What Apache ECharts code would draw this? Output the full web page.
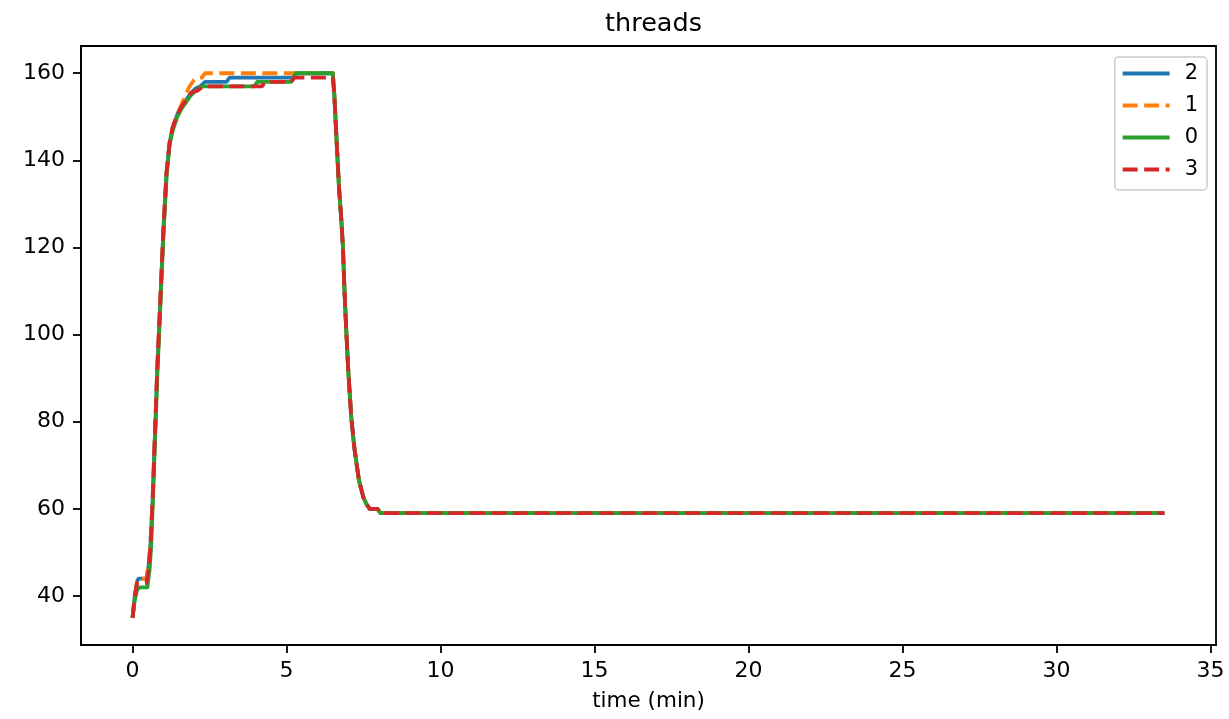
<!DOCTYPE html>
<html>
<head>
<meta charset="utf-8">
<script src="https://cdn.jsdelivr.net/npm/echarts@6/dist/echarts.min.js"></script>
<style>html,body{margin:0;padding:0;background:#fff}#c{width:1229px;height:719px}</style>
</head>
<body>
<div id="c"></div>
<script>
const titleText = 'threads';
const xName = 'time (min)';
const xTicks = [0, 5, 10, 15, 20, 25, 30, 35];
const yTicks = [40, 60, 80, 100, 120, 140, 160];
const seriesNames = ['2', '1', '0', '3'];

// shared drop phase and tail (all series identical there)
const dropTail = [[6.55,155],[6.62,145],[6.7,134],[6.78,126],[6.83,120],[6.88,110],[6.93,102],[7.0,92],[7.1,81],[7.2,74],[7.35,66.5],[7.5,62.5],[7.6,61],[7.7,60],[7.95,60],[8.05,59],[33.5,59]];

const s2 = [[0,35],[0.07,40],[0.15,43.5],[0.2,44],[0.45,44],[0.52,47],[0.58,52],[0.65,62],[0.7,72],[0.75,82],[0.8,92],[0.87,103],[0.95,116],[1.0,124],[1.1,137],[1.2,144],[1.3,147.5],[1.45,150.5],[1.6,152.5],[1.75,154],[1.9,155.5],[2.05,156.5],[2.2,157],[2.35,158],[3.05,158],[3.15,159],[5.2,159],[5.3,160],[6.5,160]];
const s1 = [[0,35],[0.07,40],[0.15,43.5],[0.2,44],[0.45,44],[0.52,47],[0.58,52],[0.65,62],[0.7,72],[0.75,82],[0.8,92],[0.87,103],[0.95,116],[1.0,124],[1.1,137],[1.2,144],[1.3,147.5],[1.45,150.5],[1.6,153],[1.75,155.5],[1.85,157],[2.0,158.5],[2.1,159],[2.25,159],[2.35,160],[6.5,160]];
const s0 = [[0,35],[0.07,39],[0.15,41.5],[0.25,42],[0.48,42],[0.55,46],[0.6,51],[0.66,62],[0.71,72],[0.76,82],[0.81,92],[0.88,103],[0.96,116],[1.01,124],[1.11,137],[1.21,144],[1.31,147],[1.45,150],[1.6,152],[1.75,153.5],[1.9,155],[2.05,156],[2.25,157],[3.95,157],[4.05,158],[5.15,158],[5.3,160],[6.5,160]];
const s3 = [[0,35],[0.07,40],[0.15,43],[0.45,43],[0.52,46],[0.58,51],[0.65,62],[0.7,72],[0.75,82],[0.8,92],[0.87,103],[0.95,116],[1.0,124],[1.1,137],[1.2,144],[1.3,147.5],[1.45,150.5],[1.6,152.5],[1.75,154],[1.9,155.5],[2.1,156],[2.3,157],[4.2,157],[4.3,158],[5.15,158],[5.25,159],[6.5,159]];

const colors = ['#1f77b4', '#ff7f0e', '#2ca02c', '#d62728'];
const styles = ['solid', 'dashed', 'solid', 'dashed'];
const dataSets = [s2, s1, s0, s3].map(d => d.concat(dropTail));

const chart = echarts.init(document.getElementById('c'), null, {renderer: 'canvas'});
const font = 'DejaVu Sans';
chart.setOption({
  animation: false,
  backgroundColor: '#fff',
  title: {
    text: titleText, left: 648.5, top: 6, textAlign: 'center',
    textStyle: {fontFamily: font, fontSize: 25.5, fontWeight: 'normal', color: '#000'}
  },
  grid: {left: 81, right: 13, top: 46, bottom: 74, show: true, borderColor: '#000', borderWidth: 1.8, containLabel: false},
  legend: {
    orient: 'vertical', right: 22, top: 57,
    itemWidth: 47, itemHeight: 20, itemGap: 11,
    padding: [6, 9, 10, 6],
    borderColor: '#cccccc', borderWidth: 1.5, borderRadius: 4,
    backgroundColor: 'rgba(255,255,255,0.8)',
    itemStyle: {color: 'rgba(0,0,0,0)', borderColor: 'rgba(0,0,0,0)', borderWidth: 0, opacity: 0},
    lineStyle: {width: 3.8},
    textStyle: {fontFamily: font, fontSize: 21, color: '#000', lineHeight: 20, padding: [0, 0, 0, 10]},
    data: seriesNames
  },
  xAxis: {
    type: 'value', min: -1.675, max: 35.175,
    name: xName, nameLocation: 'middle', nameGap: 45,
    nameTextStyle: {fontFamily: font, fontSize: 21.5, color: '#000'},
    axisLine: {show: true, onZero: false, lineStyle: {color: '#000', width: 1.8}},
    axisTick: {show: true, length: 8, lineStyle: {color: '#000', width: 1.8}, customValues: xTicks},
    axisLabel: {fontFamily: font, fontSize: 22, color: '#000', margin: 15, customValues: xTicks},
    splitLine: {show: false}
  },
  yAxis: {
    type: 'value', min: 28.75, max: 166.25,
    axisLine: {show: true, onZero: false, lineStyle: {color: '#000', width: 1.8}},
    axisTick: {show: true, length: 8, lineStyle: {color: '#000', width: 1.8}, customValues: yTicks},
    axisLabel: {fontFamily: font, fontSize: 22, color: '#000', margin: 16, customValues: yTicks},
    splitLine: {show: false}
  },
  series: seriesNames.map((n, i) => ({
    name: n, type: 'line', data: dataSets[i],
    showSymbol: false, symbol: 'none', smooth: false,
    color: colors[i],
    lineStyle: {color: colors[i], width: 3.8, type: styles[i] === 'dashed' ? [15, 6.5] : 'solid', cap: 'butt', join: 'round'},
    z: 2 + i
  }))
});
</script>
</body>
</html>
